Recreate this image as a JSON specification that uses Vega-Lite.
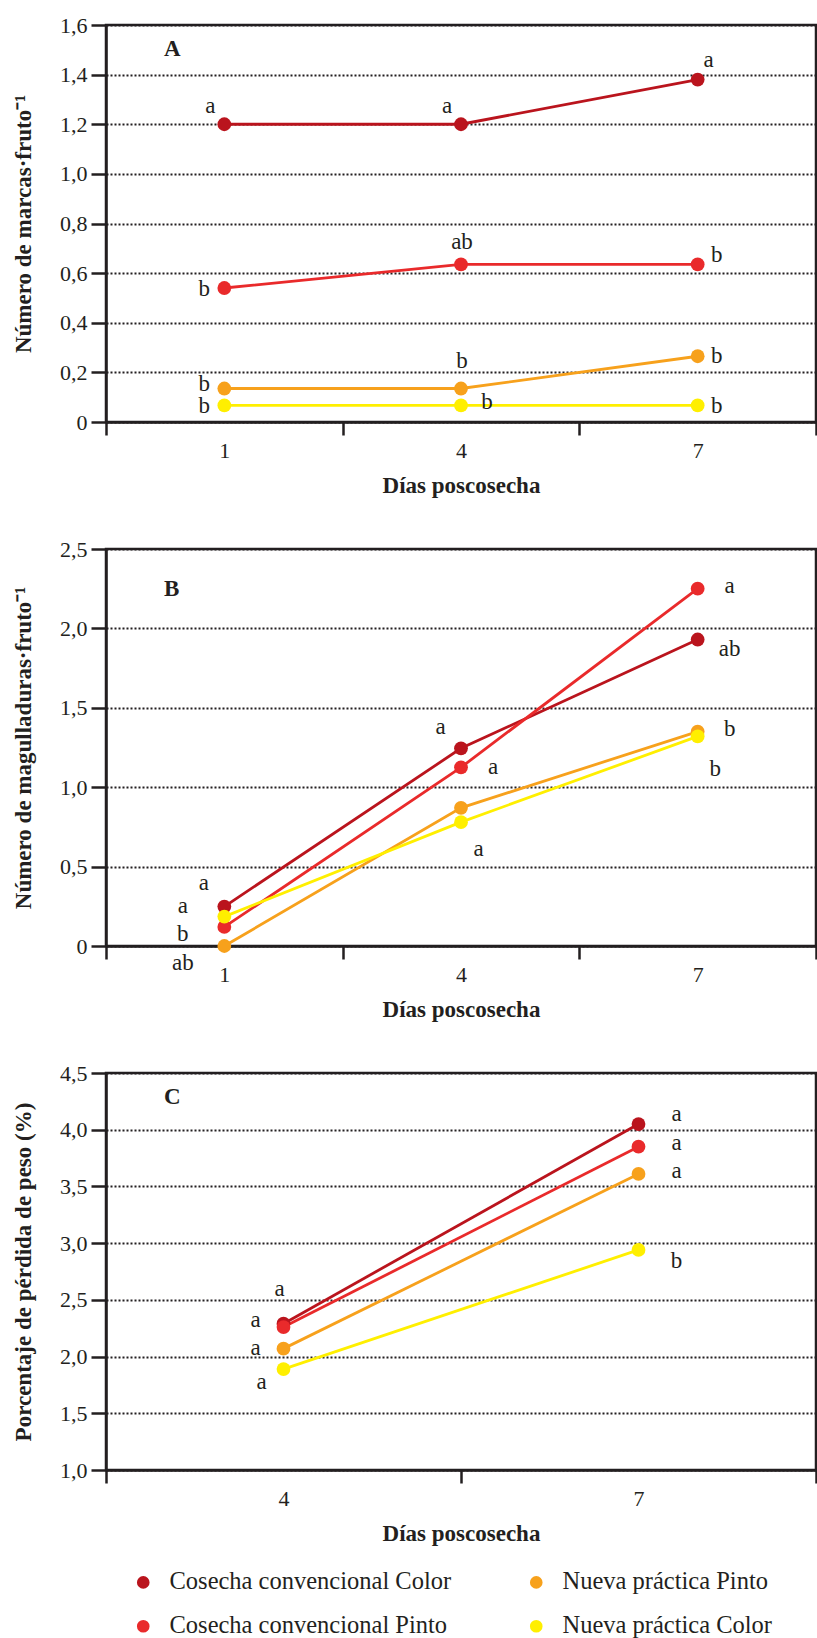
{
  "$schema": "https://vega.github.io/schema/vega-lite/v6.json",
  "background": "white",
  "padding": {"left": 10, "top": 12, "right": 0, "bottom": 0},
  "spacing": 127,
  "bounds": "flush",
  "resolve": {"scale": {"color": "shared"}, "legend": {"color": "shared"}},
  "config": {
    "font": "Liberation Serif",
    "view": {"stroke": "#231f20", "strokeWidth": 2.5},
    "axis": {"domainColor": "#231f20", "domainWidth": 2.5, "tickColor": "#231f20", "tickWidth": 2.5, "labelColor": "#231f20", "titleColor": "#231f20", "labelFont": "Liberation Serif", "titleFont": "Liberation Serif", "labelFontSize": 22, "titleFontSize": 23, "titleFontWeight": "bold"},
    "axisX": {"tickBand": "extent", "labelAngle": 0, "grid": false, "tickSize": 13, "labelPadding": 5, "titlePadding": 13},
    "axisY": {"tickSize": 15, "labelPadding": 4, "grid": true, "gridColor": "#231f20", "gridDash": [2, 2], "gridWidth": 2, "titleBaseline": "alphabetic"}
  },
  "datasets": {
    "serieA": [
      {"tratamiento": "Cosecha convencional Color", "dia": 1, "valor": 1.2},
      {"tratamiento": "Cosecha convencional Color", "dia": 4, "valor": 1.2},
      {"tratamiento": "Cosecha convencional Color", "dia": 7, "valor": 1.38},
      {"tratamiento": "Cosecha convencional Pinto", "dia": 1, "valor": 0.54},
      {"tratamiento": "Cosecha convencional Pinto", "dia": 4, "valor": 0.635},
      {"tratamiento": "Cosecha convencional Pinto", "dia": 7, "valor": 0.635},
      {"tratamiento": "Nueva práctica Pinto", "dia": 1, "valor": 0.135},
      {"tratamiento": "Nueva práctica Pinto", "dia": 4, "valor": 0.135},
      {"tratamiento": "Nueva práctica Pinto", "dia": 7, "valor": 0.265},
      {"tratamiento": "Nueva práctica Color", "dia": 1, "valor": 0.067},
      {"tratamiento": "Nueva práctica Color", "dia": 4, "valor": 0.067},
      {"tratamiento": "Nueva práctica Color", "dia": 7, "valor": 0.067}
    ],
    "letrasA": [
      {"dia": 1, "letra": "a", "valor": 1.273, "lado": "arriba_izq"},
      {"dia": 4, "letra": "a", "valor": 1.273, "lado": "arriba_izq"},
      {"dia": 7, "letra": "a", "valor": 1.458, "lado": "arriba_der"},
      {"dia": 1, "letra": "b", "valor": 0.537, "lado": "izq"},
      {"dia": 4, "letra": "ab", "valor": 0.725, "lado": "arriba"},
      {"dia": 7, "letra": "b", "valor": 0.675, "lado": "der"},
      {"dia": 1, "letra": "b", "valor": 0.152, "lado": "izq"},
      {"dia": 4, "letra": "b", "valor": 0.244, "lado": "arriba"},
      {"dia": 7, "letra": "b", "valor": 0.268, "lado": "der"},
      {"dia": 1, "letra": "b", "valor": 0.063, "lado": "izq"},
      {"dia": 4, "letra": "b", "valor": 0.079, "lado": "der2"},
      {"dia": 7, "letra": "b", "valor": 0.066, "lado": "der"}
    ],
    "serieB": [
      {"tratamiento": "Cosecha convencional Color", "dia": 1, "valor": 0.248},
      {"tratamiento": "Cosecha convencional Color", "dia": 4, "valor": 1.245},
      {"tratamiento": "Cosecha convencional Color", "dia": 7, "valor": 1.93},
      {"tratamiento": "Cosecha convencional Pinto", "dia": 1, "valor": 0.12},
      {"tratamiento": "Cosecha convencional Pinto", "dia": 4, "valor": 1.125},
      {"tratamiento": "Cosecha convencional Pinto", "dia": 7, "valor": 2.25},
      {"tratamiento": "Nueva práctica Pinto", "dia": 1, "valor": 0.0},
      {"tratamiento": "Nueva práctica Pinto", "dia": 4, "valor": 0.87},
      {"tratamiento": "Nueva práctica Pinto", "dia": 7, "valor": 1.35},
      {"tratamiento": "Nueva práctica Color", "dia": 1, "valor": 0.185},
      {"tratamiento": "Nueva práctica Color", "dia": 4, "valor": 0.78},
      {"tratamiento": "Nueva práctica Color", "dia": 7, "valor": 1.32}
    ],
    "letrasB": [
      {"dia": 1, "letra": "a", "valor": 0.399, "lado": "izq"},
      {"dia": 1, "letra": "a", "valor": 0.252, "lado": "izq2"},
      {"dia": 1, "letra": "b", "valor": 0.074, "lado": "izq2"},
      {"dia": 1, "letra": "ab", "valor": -0.105, "lado": "izq2"},
      {"dia": 4, "letra": "a", "valor": 1.376, "lado": "izq"},
      {"dia": 4, "letra": "a", "valor": 1.13, "lado": "der2"},
      {"dia": 4, "letra": "a", "valor": 0.609, "lado": "der"},
      {"dia": 7, "letra": "a", "valor": 2.268, "lado": "der2"},
      {"dia": 7, "letra": "ab", "valor": 1.87, "lado": "der2"},
      {"dia": 7, "letra": "b", "valor": 1.365, "lado": "der2"},
      {"dia": 7, "letra": "b", "valor": 1.113, "lado": "der"}
    ],
    "serieC": [
      {"tratamiento": "Cosecha convencional Color", "dia": 4, "valor": 2.29},
      {"tratamiento": "Cosecha convencional Color", "dia": 7, "valor": 4.05},
      {"tratamiento": "Cosecha convencional Pinto", "dia": 4, "valor": 2.26},
      {"tratamiento": "Cosecha convencional Pinto", "dia": 7, "valor": 3.85},
      {"tratamiento": "Nueva práctica Pinto", "dia": 4, "valor": 2.07},
      {"tratamiento": "Nueva práctica Pinto", "dia": 7, "valor": 3.61},
      {"tratamiento": "Nueva práctica Color", "dia": 4, "valor": 1.89},
      {"tratamiento": "Nueva práctica Color", "dia": 7, "valor": 2.94}
    ],
    "letrasC": [
      {"dia": 4, "letra": "a", "valor": 2.6, "lado": "arriba"},
      {"dia": 4, "letra": "a", "valor": 2.32, "lado": "izq"},
      {"dia": 4, "letra": "a", "valor": 2.075, "lado": "izq"},
      {"dia": 4, "letra": "a", "valor": 1.772, "lado": "izq2"},
      {"dia": 7, "letra": "a", "valor": 4.138, "lado": "der"},
      {"dia": 7, "letra": "a", "valor": 3.879, "lado": "der"},
      {"dia": 7, "letra": "a", "valor": 3.64, "lado": "der"},
      {"dia": 7, "letra": "b", "valor": 2.84, "lado": "der"}
    ]
  },
  "vconcat": [
    {
      "width": 710,
      "height": 397,
      "title": {"text": "A", "anchor": "start", "frame": "group", "offset": 0, "dx": 58, "dy": 65, "baseline": "alphabetic", "fontSize": 23, "fontWeight": "bold", "font": "Liberation Serif", "color": "#231f20"},
      "encoding": {
        "x": {"field": "dia", "type": "ordinal", "scale": {"type": "band", "paddingInner": 0, "paddingOuter": 0}, "axis": {"title": "Días poscosecha"}},
        "y": {"field": "valor", "type": "quantitative", "scale": {"domain": [0, 1.6], "nice": false, "zero": false}, "axis": {"title": "Número de marcas·fruto⁻¹", "titleX": -76, "values": [0, 0.2, 0.4, 0.6, 0.8, 1, 1.2, 1.4, 1.6], "labelExpr": "datum.value == 0 ? '0' : replace(format(datum.value, '.1f'), '.', ',')"}}
      },
      "layer": [
        {
          "data": {"name": "serieA"},
          "mark": {"type": "line", "strokeWidth": 2.8, "point": {"filled": true, "size": 190, "opacity": 1}},
          "encoding": {
            "color": {"field": "tratamiento", "type": "nominal",
              "scale": {"domain": ["Cosecha convencional Color", "Cosecha convencional Pinto", "Nueva práctica Pinto", "Nueva práctica Color"], "range": ["#BA141D", "#E92A2B", "#F7A11C", "#FFEF00"]},
              "legend": {"orient": "none", "legendX": 25, "legendY": 1545, "columns": 2, "title": null, "symbolType": "circle", "symbolSize": 160, "symbolStrokeWidth": 0, "labelFontSize": 24.5, "labelFont": "Liberation Serif", "labelColor": "#231f20", "labelOffset": 14, "rowPadding": 19, "columnPadding": 72, "padding": 0, "labelLimit": 500}}
          }
        },
        {"data": {"name": "letrasA"}, "transform": [{"filter": "datum.lado == 'izq'"}], "mark": {"type": "text", "font": "Liberation Serif", "fontSize": 23, "color": "#231f20", "baseline": "middle", "align": "center", "dx": -20}, "encoding": {"text": {"field": "letra"}}},
        {"data": {"name": "letrasA"}, "transform": [{"filter": "datum.lado == 'arriba_izq'"}], "mark": {"type": "text", "font": "Liberation Serif", "fontSize": 23, "color": "#231f20", "baseline": "middle", "align": "center", "dx": -14}, "encoding": {"text": {"field": "letra"}}},
        {"data": {"name": "letrasA"}, "transform": [{"filter": "datum.lado == 'arriba'"}], "mark": {"type": "text", "font": "Liberation Serif", "fontSize": 23, "color": "#231f20", "baseline": "middle", "align": "center", "dx": 1}, "encoding": {"text": {"field": "letra"}}},
        {"data": {"name": "letrasA"}, "transform": [{"filter": "datum.lado == 'arriba_der'"}], "mark": {"type": "text", "font": "Liberation Serif", "fontSize": 23, "color": "#231f20", "baseline": "middle", "align": "center", "dx": 11}, "encoding": {"text": {"field": "letra"}}},
        {"data": {"name": "letrasA"}, "transform": [{"filter": "datum.lado == 'der'"}], "mark": {"type": "text", "font": "Liberation Serif", "fontSize": 23, "color": "#231f20", "baseline": "middle", "align": "center", "dx": 19}, "encoding": {"text": {"field": "letra"}}},
        {"data": {"name": "letrasA"}, "transform": [{"filter": "datum.lado == 'der2'"}], "mark": {"type": "text", "font": "Liberation Serif", "fontSize": 23, "color": "#231f20", "baseline": "middle", "align": "center", "dx": 26}, "encoding": {"text": {"field": "letra"}}}
      ]
    },
    {
      "width": 710,
      "height": 397,
      "title": {"text": "B", "anchor": "start", "frame": "group", "offset": 0, "dx": 58, "dy": 81, "baseline": "alphabetic", "fontSize": 23, "fontWeight": "bold", "font": "Liberation Serif", "color": "#231f20"},
      "encoding": {
        "x": {"field": "dia", "type": "ordinal", "scale": {"type": "band", "paddingInner": 0, "paddingOuter": 0}, "axis": {"title": "Días poscosecha"}},
        "y": {"field": "valor", "type": "quantitative", "scale": {"domain": [0, 2.5], "nice": false, "zero": false}, "axis": {"title": "Número de magulladuras·fruto⁻¹", "titleX": -76, "values": [0, 0.5, 1, 1.5, 2, 2.5], "labelExpr": "datum.value == 0 ? '0' : replace(format(datum.value, '.1f'), '.', ',')"}}
      },
      "layer": [
        {
          "data": {"name": "serieB"},
          "mark": {"type": "line", "strokeWidth": 2.8, "point": {"filled": true, "size": 190, "opacity": 1}},
          "encoding": {
            "color": {"field": "tratamiento", "type": "nominal",
              "scale": {"domain": ["Cosecha convencional Color", "Cosecha convencional Pinto", "Nueva práctica Pinto", "Nueva práctica Color"], "range": ["#BA141D", "#E92A2B", "#F7A11C", "#FFEF00"]},
              "legend": {"orient": "none", "legendX": 25, "legendY": 1545, "columns": 2, "title": null, "symbolType": "circle", "symbolSize": 160, "symbolStrokeWidth": 0, "labelFontSize": 24.5, "labelFont": "Liberation Serif", "labelColor": "#231f20", "labelOffset": 14, "rowPadding": 19, "columnPadding": 72, "padding": 0, "labelLimit": 500}}
          }
        },
        {"data": {"name": "letrasB"}, "transform": [{"filter": "datum.lado == 'izq'"}], "mark": {"type": "text", "font": "Liberation Serif", "fontSize": 23, "color": "#231f20", "baseline": "middle", "align": "center", "dx": -20.5}, "encoding": {"text": {"field": "letra"}}},
        {"data": {"name": "letrasB"}, "transform": [{"filter": "datum.lado == 'izq2'"}], "mark": {"type": "text", "font": "Liberation Serif", "fontSize": 23, "color": "#231f20", "baseline": "middle", "align": "center", "dx": -41.5}, "encoding": {"text": {"field": "letra"}}},
        {"data": {"name": "letrasB"}, "transform": [{"filter": "datum.lado == 'der'"}], "mark": {"type": "text", "font": "Liberation Serif", "fontSize": 23, "color": "#231f20", "baseline": "middle", "align": "center", "dx": 17.5}, "encoding": {"text": {"field": "letra"}}},
        {"data": {"name": "letrasB"}, "transform": [{"filter": "datum.lado == 'der2'"}], "mark": {"type": "text", "font": "Liberation Serif", "fontSize": 23, "color": "#231f20", "baseline": "middle", "align": "center", "dx": 32}, "encoding": {"text": {"field": "letra"}}}
      ]
    },
    {
      "width": 710,
      "height": 397,
      "title": {"text": "C", "anchor": "start", "frame": "group", "offset": 0, "dx": 58, "dy": 65, "baseline": "alphabetic", "fontSize": 23, "fontWeight": "bold", "font": "Liberation Serif", "color": "#231f20"},
      "encoding": {
        "x": {"field": "dia", "type": "ordinal", "scale": {"type": "band", "paddingInner": 0, "paddingOuter": 0}, "axis": {"title": "Días poscosecha"}},
        "y": {"field": "valor", "type": "quantitative", "scale": {"domain": [1, 4.5], "nice": false, "zero": false}, "axis": {"title": "Porcentaje de pérdida de peso (%)", "titleX": -76, "values": [1, 1.5, 2, 2.5, 3, 3.5, 4, 4.5], "labelExpr": "replace(format(datum.value, '.1f'), '.', ',')"}}
      },
      "layer": [
        {
          "data": {"name": "serieC"},
          "mark": {"type": "line", "strokeWidth": 2.8, "point": {"filled": true, "size": 190, "opacity": 1}},
          "encoding": {
            "color": {"field": "tratamiento", "type": "nominal",
              "scale": {"domain": ["Cosecha convencional Color", "Cosecha convencional Pinto", "Nueva práctica Pinto", "Nueva práctica Color"], "range": ["#BA141D", "#E92A2B", "#F7A11C", "#FFEF00"]},
              "legend": {"orient": "none", "legendX": 25, "legendY": 1545, "columns": 2, "title": null, "symbolType": "circle", "symbolSize": 160, "symbolStrokeWidth": 0, "labelFontSize": 24.5, "labelFont": "Liberation Serif", "labelColor": "#231f20", "labelOffset": 14, "rowPadding": 19, "columnPadding": 72, "padding": 0, "labelLimit": 500}}
          }
        },
        {"data": {"name": "letrasC"}, "transform": [{"filter": "datum.lado == 'arriba'"}], "mark": {"type": "text", "font": "Liberation Serif", "fontSize": 23, "color": "#231f20", "baseline": "middle", "align": "center", "dx": -4}, "encoding": {"text": {"field": "letra"}}},
        {"data": {"name": "letrasC"}, "transform": [{"filter": "datum.lado == 'izq'"}], "mark": {"type": "text", "font": "Liberation Serif", "fontSize": 23, "color": "#231f20", "baseline": "middle", "align": "center", "dx": -28}, "encoding": {"text": {"field": "letra"}}},
        {"data": {"name": "letrasC"}, "transform": [{"filter": "datum.lado == 'izq2'"}], "mark": {"type": "text", "font": "Liberation Serif", "fontSize": 23, "color": "#231f20", "baseline": "middle", "align": "center", "dx": -22}, "encoding": {"text": {"field": "letra"}}},
        {"data": {"name": "letrasC"}, "transform": [{"filter": "datum.lado == 'der'"}], "mark": {"type": "text", "font": "Liberation Serif", "fontSize": 23, "color": "#231f20", "baseline": "middle", "align": "center", "dx": 38}, "encoding": {"text": {"field": "letra"}}}
      ]
    }
  ]
}
